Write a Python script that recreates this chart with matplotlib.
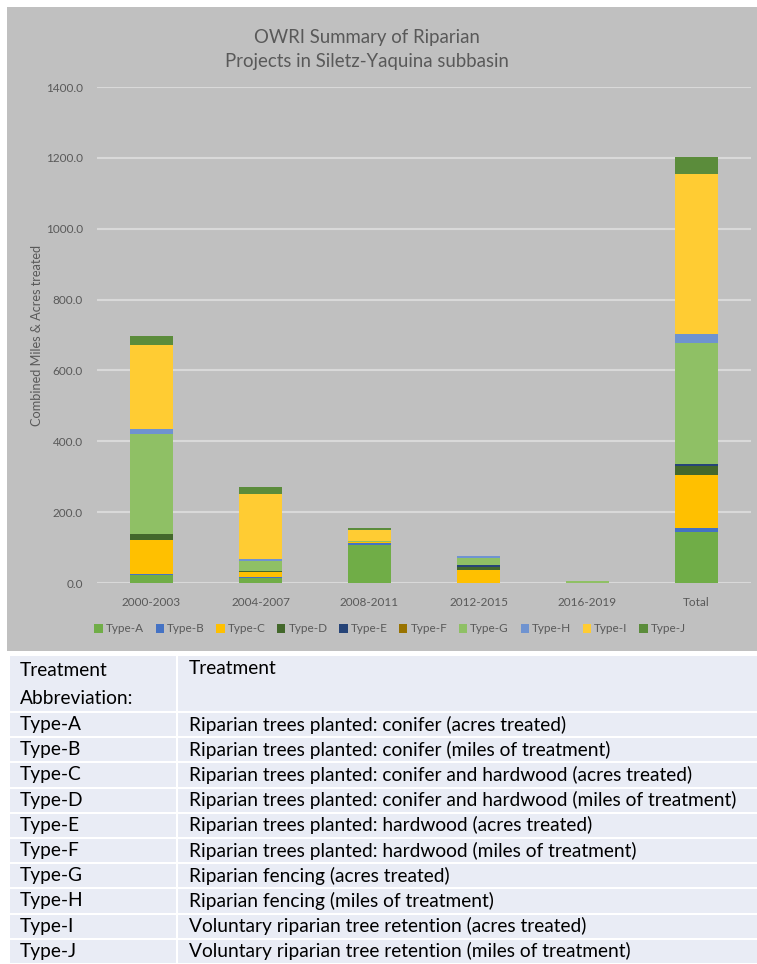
import matplotlib
matplotlib.use("Agg")
import matplotlib.pyplot as plt
from matplotlib.patches import Rectangle
import numpy as np

# Data
periods = ["2000-2003", "2004-2007", "2008-2011", "2012-2015", "2016-2019", "Total"]
type_names = ["Type-A", "Type-B", "Type-C", "Type-D", "Type-E",
              "Type-F", "Type-G", "Type-H", "Type-I", "Type-J"]
type_a = [21.6, 14.0, 107.0, 0.0, 0.0, 142.6]
type_b = [5.0, 3.0, 4.5, 0.0, 0.0, 12.5]
type_c = [96.0, 14.0, 3.0, 37.0, 0.0, 150.0]
type_d = [15.0, 3.0, 0.0, 8.0, 0.0, 26.0]
type_e = [0.0, 0.0, 0.0, 4.5, 0.0, 4.5]
type_f = [0.0, 0.0, 0.0, 0.0, 0.0, 0.0]
type_g = [282.0, 28.0, 4.0, 22.0, 5.0, 341.0]
type_h = [15.5, 5.0, 0.0, 5.8, 0.0, 26.3]
type_i = [237.0, 183.0, 31.0, 0.0, 0.0, 451.0]
type_j = [24.4, 20.7, 4.7, 0.0, 0.0, 49.8]
series = [type_a, type_b, type_c, type_d, type_e,
          type_f, type_g, type_h, type_i, type_j]
colors = ["#70ad47", "#4472c4", "#ffc000", "#43682b", "#264478",
          "#997300", "#8fc065", "#6f93d0", "#ffcc33", "#5b8c3b"]

descriptions = [
    "Riparian trees planted: conifer (acres treated)",
    "Riparian trees planted: conifer (miles of treatment)",
    "Riparian trees planted: conifer and hardwood (acres treated)",
    "Riparian trees planted: conifer and hardwood (miles of treatment)",
    "Riparian trees planted: hardwood (acres treated)",
    "Riparian trees planted: hardwood (miles of treatment)",
    "Riparian fencing (acres treated)",
    "Riparian fencing (miles of treatment)",
    "Voluntary riparian tree retention (acres treated)",
    "Voluntary riparian tree retention (miles of treatment)",
]

W, H = 757, 964
FONT = "Lato"
GREY = "#595959"

fig = plt.figure(figsize=(W / 100, H / 100), dpi=100)
fig.patch.set_facecolor("white")

# grey chart background
fig.patches.append(Rectangle((7 / W, 1 - 651 / H), 750 / W, 644 / H,
                             transform=fig.transFigure, facecolor="#c0c0c0",
                             edgecolor="none", zorder=-5))

ax = fig.add_axes([97 / W, 1 - 583 / H, 654 / W, 496 / H])
ax.set_zorder(2)
ax.set_facecolor("none")
x = np.arange(len(periods))
bottom = np.zeros(len(periods))
for name, vals, c in zip(type_names, series, colors):
    ax.bar(x, vals, 0.4, bottom=bottom, color=c, label=name, linewidth=0)
    bottom += np.array(vals)

ax.set_xlim(-0.5, len(periods) - 0.5)
ax.set_ylim(0, 1400)
ax.set_yticks(np.arange(0, 1401, 200))
ax.set_yticklabels(["%.1f" % v for v in np.arange(0, 1401, 200)])
ax.set_xticks(x)
ax.set_xticklabels(periods)
ax.yaxis.grid(True, color="#d9d9d9", linewidth=1.5)
ax.set_axisbelow(True)
for s in ax.spines.values():
    s.set_visible(False)
ax.tick_params(length=0, colors=GREY, labelsize=8.5)
ax.tick_params(axis="y", pad=10)
ax.tick_params(axis="x", pad=10)
for lab in ax.get_xticklabels() + ax.get_yticklabels():
    lab.set_fontfamily(FONT)
ax.set_ylabel("Combined Miles & Acres treated", fontsize=9.2, color=GREY,
              family=FONT)
ax.yaxis.set_label_coords(-0.083, 0.5)

fig.text(367 / W, 1 - 50 / H, "OWRI Summary of Riparian\nProjects in Siletz-Yaquina subbasin",
         ha="center", va="center", fontsize=13.4, color=GREY, family=FONT,
         linespacing=1.5)

fig.legend(loc="center", bbox_to_anchor=(390 / W, 1 - 629 / H), ncol=10,
           frameon=False, handlelength=0.7, handleheight=0.7, handletextpad=0.25,
           columnspacing=1.0, prop={"family": FONT, "size": 8.5}, labelcolor=GREY)

# Abbreviation table
tax = fig.add_axes([0, 0, 1, (H - 651) / H])
tax.set_xlim(0, W)
tax.set_ylim(H, 651)
tax.axis("off")
cell = "#e9ecf5"
fs = 13.8
tax.add_patch(Rectangle((10, 656), 166, 55, facecolor=cell, edgecolor="none"))
tax.add_patch(Rectangle((178, 656), 579, 55, facecolor=cell, edgecolor="none"))
tax.text(20, 670, "Treatment", va="center", fontsize=fs, family=FONT, color="black")
tax.text(20, 699, "Abbreviation:", va="center", fontsize=fs, family=FONT, color="black")
tax.text(189, 668, "Treatment", va="center", fontsize=fs, family=FONT, color="black")
row_h = 25.2
for i, (abbr, desc) in enumerate(zip(type_names, descriptions)):
    top = 713 + i * row_h
    tax.add_patch(Rectangle((10, top), 166, row_h - 2, facecolor=cell, edgecolor="none"))
    tax.add_patch(Rectangle((178, top), 579, row_h - 2, facecolor=cell, edgecolor="none"))
    tax.text(20, top + 11.5, abbr, va="center", fontsize=fs, family=FONT, color="black")
    tax.text(189, top + 11.5, desc, va="center", fontsize=fs, family=FONT, color="black")

fig.savefig("out.png", dpi=100)
